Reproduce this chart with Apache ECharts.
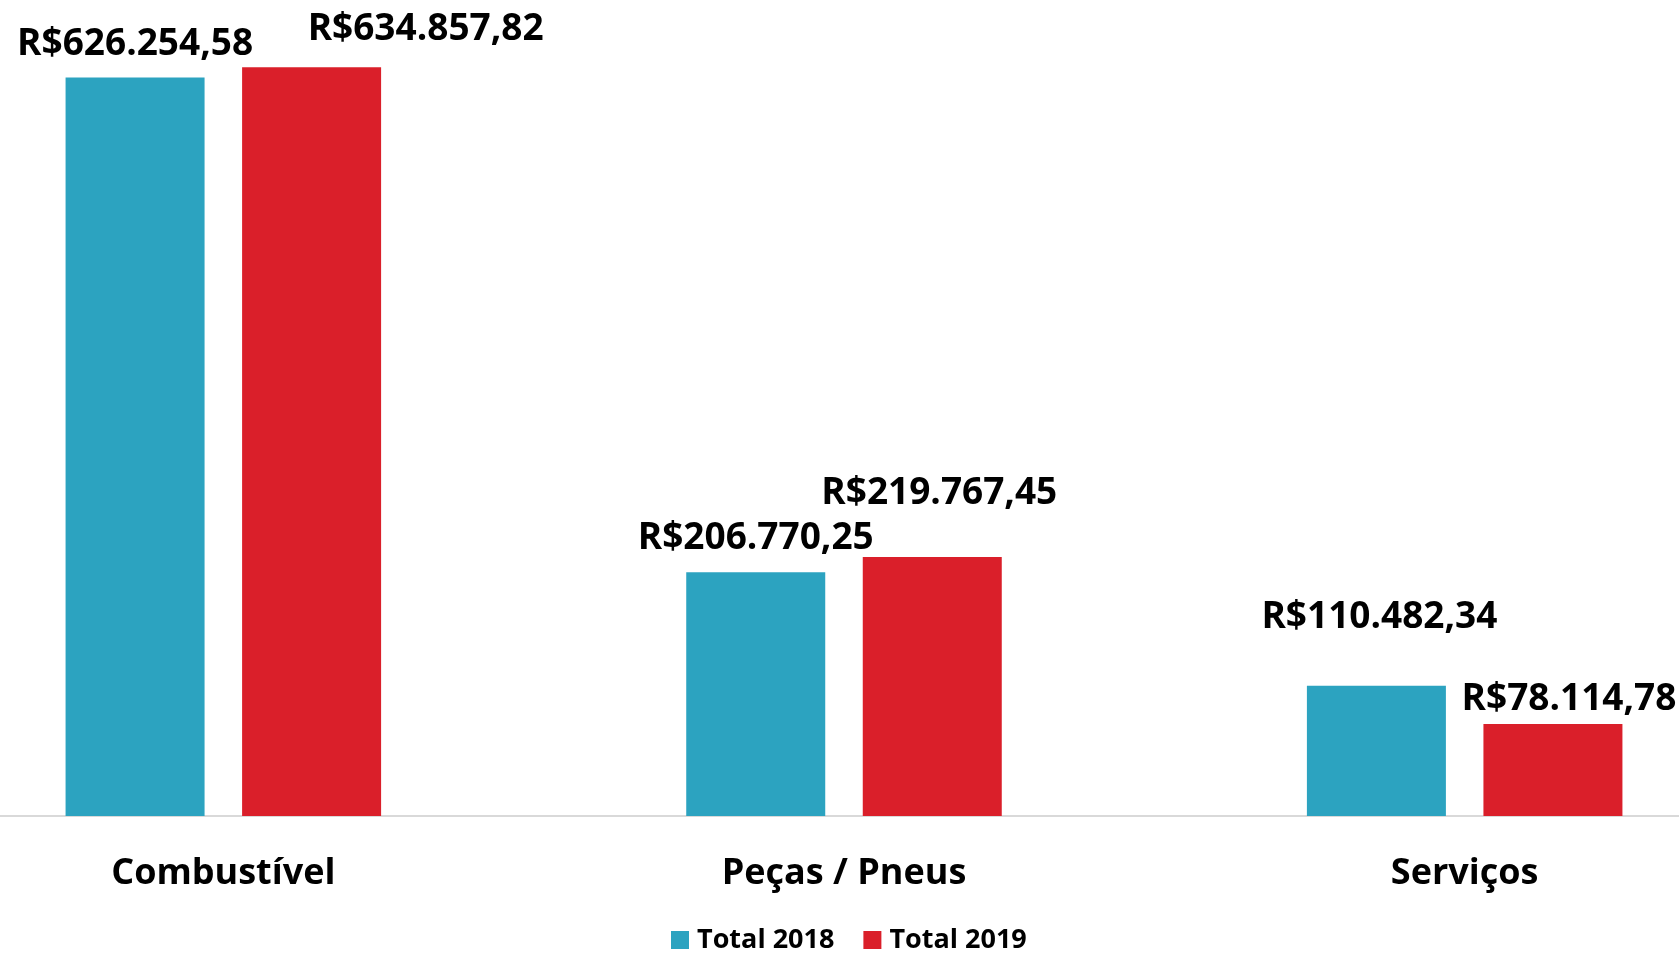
<!DOCTYPE html>
<html>
<head>
<meta charset="utf-8">
<script src="https://cdn.jsdelivr.net/npm/echarts@6/dist/echarts.min.js"></script>
<style>
html,body{margin:0;padding:0;background:#fff;}
#chart{width:1679px;height:953px;}
</style>
</head>
<body>
<div id="chart"></div>
<script>
const categories = ['Combustível', 'Peças / Pneus', 'Serviços'];
const seriesNames = ['Total 2018', 'Total 2019'];
const total2018 = [626254.58, 206770.25, 110482.34];
const total2019 = [634857.82, 219767.45, 78114.78];

const COLORS = ['#2CA3C0', '#DA1F2A'];
const FONT = '"Open Sans", "Noto Sans", sans-serif';
// manual label placements (Excel-style dragged labels)
const labelShift2018 = [[0, -14.5], [0, -15.5], [3, -50]];
const labelShift2019 = [[114, -19.5], [7, -44.5], [16, -6.5]];

function brl(v) {
  const parts = v.toFixed(2).split('.');
  const intPart = parts[0].replace(/\B(?=(\d{3})+(?!\d))/g, '.');
  return 'R$' + intPart + ',' + parts[1];
}

function buildData(values, shifts) {
  return values.map((v, i) => ({
    value: v,
    label: { offset: shifts[i] }
  }));
}

const labelBase = {
  show: true,
  position: 'top',
  distance: 0,
  fontFamily: FONT,
  fontWeight: 'bold',
  fontSize: 37,
  lineHeight: 37,
  color: '#000',
  formatter: p => brl(p.value)
};

const chart = echarts.init(document.getElementById('chart'), null, { renderer: 'canvas' });
chart.setOption({
  animation: false,
  backgroundColor: '#fff',
  color: COLORS,
  grid: {
    left: -87,
    right: -96,
    top: 49.4,
    bottom: 136.9,
    outerBoundsMode: 'none',
    containLabel: false
  },
  legend: {
    data: seriesNames,
    left: 671,
    top: 926,
    padding: 0,
    icon: 'rect',
    itemWidth: 18,
    itemHeight: 18,
    itemGap: 29,
    textStyle: {
      fontFamily: FONT,
      fontWeight: 'bold',
      fontSize: 27,
      lineHeight: 28,
      color: '#000',
      padding: [0, 0, 0, 3]
    }
  },
  xAxis: {
    type: 'category',
    data: categories,
    axisLine: { lineStyle: { color: '#D9D9D9', width: 2 } },
    axisTick: { show: false },
    axisLabel: {
      fontFamily: FONT,
      fontWeight: 'bold',
      fontSize: 36,
      lineHeight: 36,
      color: '#000',
      margin: 40
    }
  },
  yAxis: {
    type: 'value',
    min: 0,
    max: 650000,
    show: false,
    splitLine: { show: false }
  },
  series: [
    {
      name: seriesNames[0],
      type: 'bar',
      barWidth: 139,
      barGap: '27%',
      data: buildData(total2018, labelShift2018),
      label: labelBase
    },
    {
      name: seriesNames[1],
      type: 'bar',
      barWidth: 139,
      barGap: '27%',
      data: buildData(total2019, labelShift2019),
      label: labelBase
    }
  ]
});
</script>
</body>
</html>
